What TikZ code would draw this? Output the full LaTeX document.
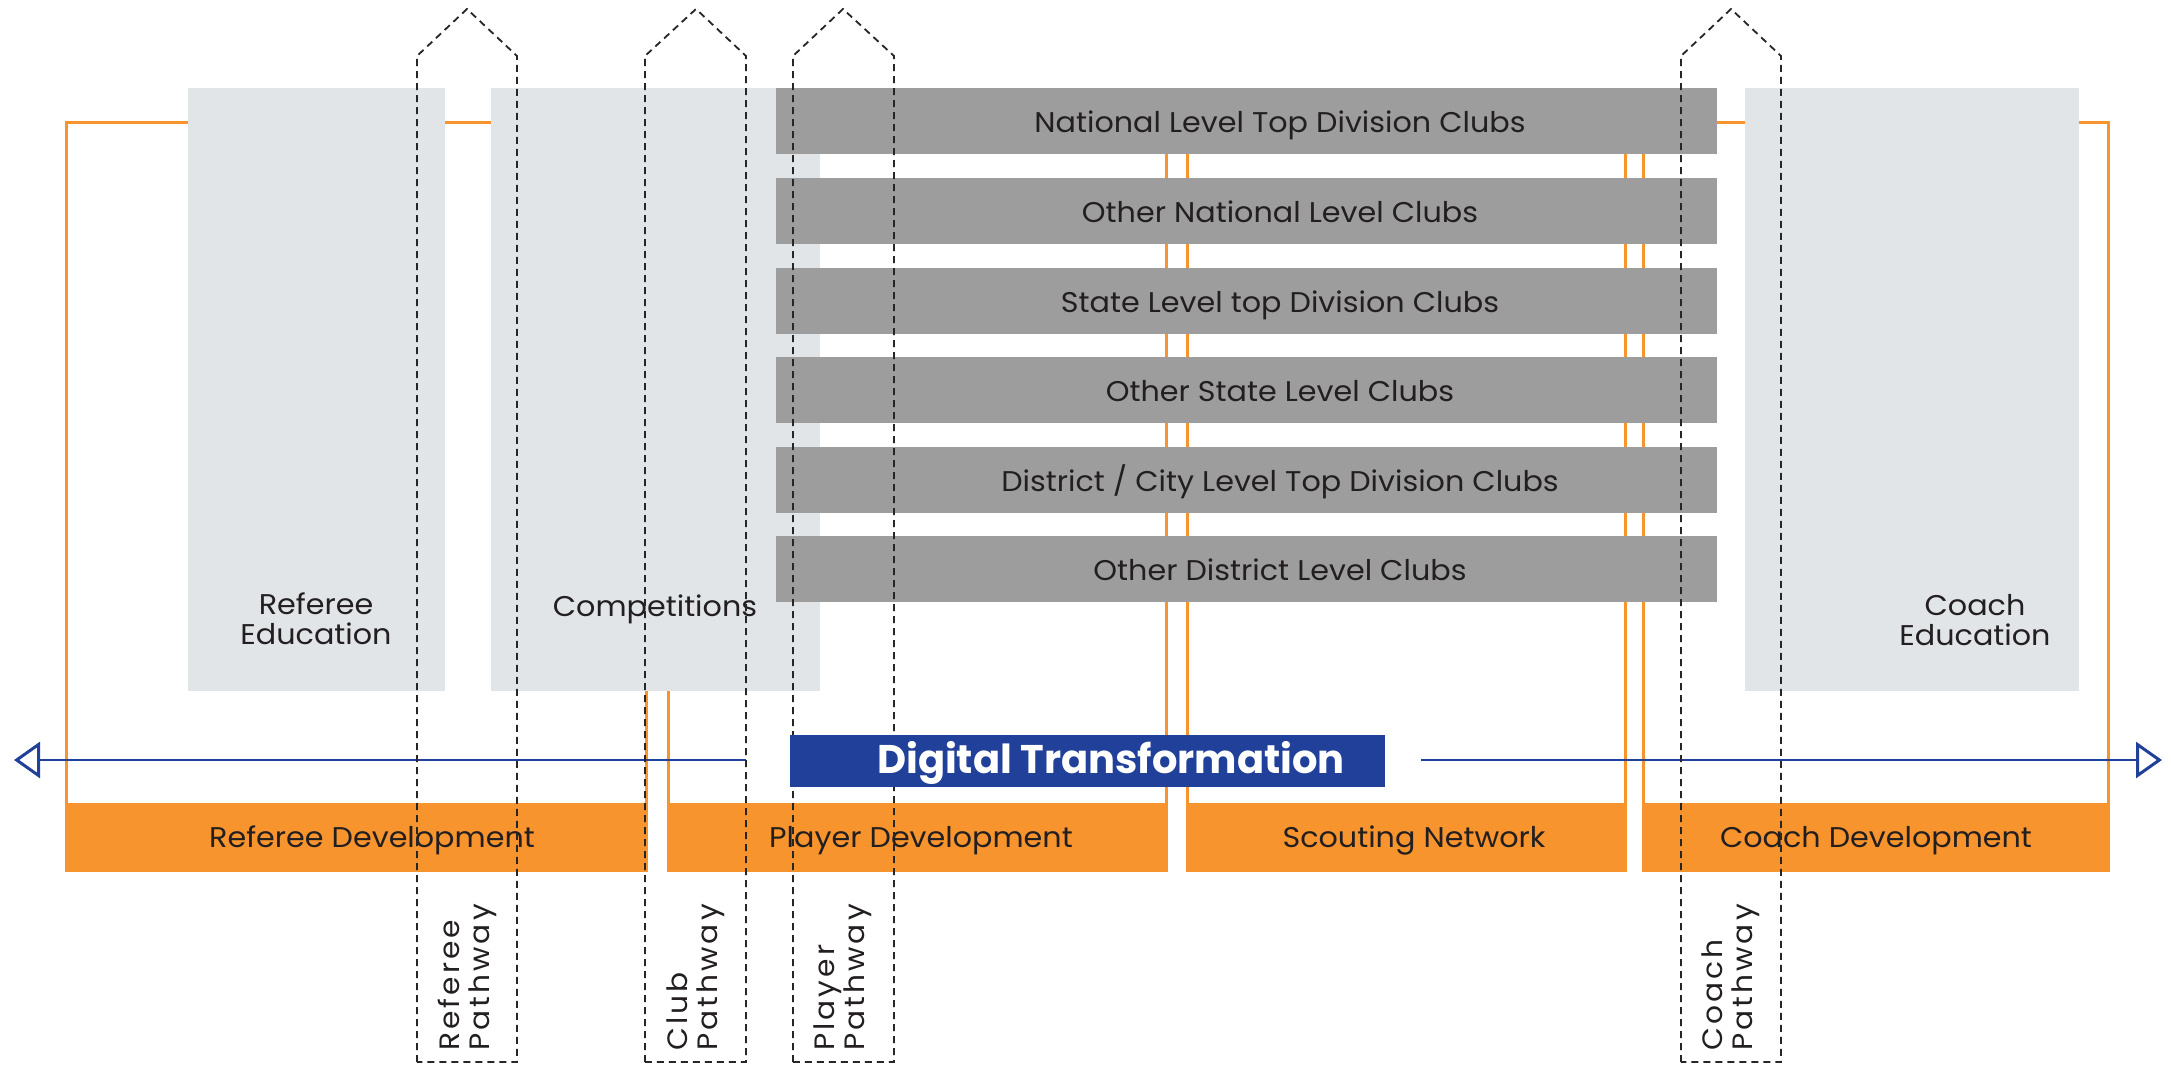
\documentclass[tikz,border=0pt]{standalone}
\usepackage{fontspec}
\setmainfont{Poppins}[FakeStretch=1.06]
\newfontfamily\dtfont{Poppins}
\newfontfamily\pwfont{Poppins}[LetterSpace=11,FakeStretch=1.06]
\usetikzlibrary{arrows.meta}
\definecolor{dorange}{RGB}{247,148,45}
\definecolor{lgray}{RGB}{225,229,232}
\definecolor{dgray}{RGB}{157,157,157}
\definecolor{dblue}{RGB}{33,64,154}
\definecolor{txt}{RGB}{35,31,32}
\tikzset{
  box/.style={inner sep=0pt, outer sep=0pt, anchor=north west},
  outl/.style={box, draw=dorange, line width=3pt},
  bandbox/.style={box, fill=dorange},
  lbox/.style={box, fill=lgray},
  barbox/.style={box, fill=dgray, minimum width=941pt, minimum height=66pt},
  lbl/.style={inner sep=0pt, text=txt, font=\fontsize{28.5}{31}\selectfont, anchor=base},
  pathw/.style={draw=black!85, line width=1.8pt, dash pattern=on 7pt off 5pt},
  plbl/.style={inner sep=0pt, text=txt, font=\pwfont\fontsize{28}{30}\selectfont, rotate=90, anchor=west, align=left},
  arr/.style={draw=dblue, line width=2.5pt}
}
\begin{document}
\begin{tikzpicture}[x=1pt,y=-1pt]
\useasboundingbox[fill=white] (0,0) rectangle (2171,1065);

% orange outlined areas
\node[outl, minimum width=580pt, minimum height=748pt] (rdo) at (66,122) {};
\node[outl, minimum width=498pt, minimum height=748pt] (pdo) at (668,122) {};
\node[outl, minimum width=438pt, minimum height=748pt] (sno) at (1187,122) {};
\node[outl, minimum width=465pt, minimum height=748pt] (cdo) at (1643,122) {};
\node[bandbox, minimum width=580pt, minimum height=67pt] (rdb) at (66,803) {};
\node[bandbox, minimum width=498pt, minimum height=67pt] (pdb) at (668,803) {};
\node[bandbox, minimum width=438pt, minimum height=67pt] (snb) at (1187,803) {};
\node[bandbox, minimum width=465pt, minimum height=67pt] (cdb) at (1643,803) {};

% light grey boxes
\node[lbox, minimum width=257pt, minimum height=603pt] (refedu) at (188,88) {};
\node[lbox, minimum width=329pt, minimum height=603pt] (comp) at (491,88) {};
\node[lbox, minimum width=334pt, minimum height=603pt] (coachedu) at (1745,88) {};

% club level bars
\node[barbox] (b1) at (776,88) {};
\node[barbox] (b2) at (776,178) {};
\node[barbox] (b3) at (776,268) {};
\node[barbox] (b4) at (776,357) {};
\node[barbox] (b5) at (776,447) {};
\node[barbox] (b6) at (776,536) {};

% digital transformation line
\coordinate (ltip) at (14,760);
\coordinate (lend) at (746,760);
\coordinate (rstart) at (1421,760);
\coordinate (rtip) at (2162,760);
\draw[arr, {Triangle[open,length=26pt,width=36pt,line width=3pt]}-] (ltip) -- (lend);
\draw[arr, -{Triangle[open,length=26pt,width=36pt,line width=3pt]}] (rstart) -- (rtip);

% texts
\node[lbl] (t1) at (1280,132) {National Level Top Division Clubs};
\node[lbl] (t2) at (1280,222) {Other National Level Clubs};
\node[lbl] (t3) at (1280,312) {State Level top Division Clubs};
\node[lbl] (t4) at (1280,401) {Other State Level Clubs};
\node[lbl] (t5) at (1280,491) {District / City Level Top Division Clubs};
\node[lbl] (t6) at (1280,580) {Other District Level Clubs};

\node[lbl] (re1) at (316,614) {Referee};
\node[lbl] (re2) at (316,644) {Education};
\node[lbl] (cp) at (655,616) {Competitions};
\node[lbl] (ce1) at (1975,615) {Coach};
\node[lbl] (ce2) at (1975,645) {Education};

\node[lbl] (rdt) at (372,847) {Referee Development};
\node[lbl] (pdt) at (921,847) {Player Development};
\node[lbl] (snt) at (1414,847) {Scouting Network};
\node[lbl] (cdt) at (1876,847) {Coach Development};

% pathways
\draw[pathw] (417,1062) -- (417,56) -- (467,9) -- (517,56) -- (517,1062) -- cycle;
\draw[pathw] (645,1062) -- (645,56) -- (696,9) -- (746,56) -- (746,1062) -- cycle;
\draw[pathw] (793,1062) -- (793,56) -- (843,9) -- (894,56) -- (894,1062) -- cycle;
\draw[pathw] (1681,1062) -- (1681,56) -- (1731,9) -- (1781,56) -- (1781,1062) -- cycle;
\node[plbl] (rp) at (467,1051) {Referee\\Pathway};
\node[plbl] (clp) at (696,1051) {Club\\Pathway};
\node[plbl] (plp) at (843,1051) {Player\\Pathway};
\node[plbl] (cop) at (1731,1051) {Coach\\Pathway};

% digital transformation box
\node[box, fill=dblue, minimum width=595pt, minimum height=52pt] (dt) at (790,735) {};
\node[inner sep=0pt, text=white, font=\dtfont\fontsize{40}{44}\selectfont\bfseries, anchor=base] (dtt) at (1111,773) {Digital Transformation};
\end{tikzpicture}
\end{document}
